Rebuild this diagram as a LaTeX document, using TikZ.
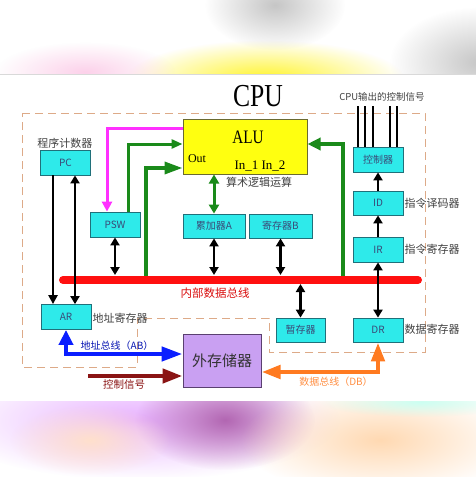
\documentclass[tikz,border=0pt]{standalone}
\usepackage{fontspec}
\setmainfont{Liberation Serif}
\newfontfamily\cjk{Noto Sans CJK SC}
\usetikzlibrary{arrows.meta,fadings}
\tikzfading[name=softblob, inner color=transparent!0, outer color=transparent!100]
\definecolor{boxcyan}{HTML}{2EEAEA}
\definecolor{regborder}{HTML}{20707A}
\definecolor{regtext}{HTML}{3A4A78}
\definecolor{aluyellow}{HTML}{FFFF10}
\definecolor{aluborder}{HTML}{6A6A30}
\definecolor{extfill}{HTML}{C9A0F2}
\definecolor{extborder}{HTML}{5A4070}
\definecolor{dashcol}{HTML}{DDAA88}
\definecolor{busred}{HTML}{FF1010}
\definecolor{gr}{HTML}{1A8A1A}
\definecolor{mag}{HTML}{FF30FF}
\definecolor{abblue}{HTML}{0A1EFF}
\definecolor{ctrlred}{HTML}{8A1414}
\definecolor{dborange}{HTML}{FF7A20}
\begin{document}
\begin{tikzpicture}[x=1pt,y=-1pt,
  reg/.style={draw=regborder, fill=boxcyan, line width=0.8pt, minimum width=50pt,
    minimum height=25pt, inner sep=0pt, text=regtext, font=\cjk\fontsize{10}{12}\selectfont},
  lbl/.style={font=\cjk\fontsize{11}{13}\selectfont, text=black!75, inner sep=0pt},
  barrow/.style={line width=2.5pt, {Triangle[length=8pt,width=9pt]}-{Triangle[length=8pt,width=9pt]}},
  uparrow/.style={line width=2.5pt, -{Triangle[length=8pt,width=9pt]}},
  sig/.style={line width=2.2pt},
  blob/.style={fill=#1, path fading=softblob}
]
\useasboundingbox (0,0) rectangle (476,477);
% background bands
\begin{scope}
\clip (0,0) rectangle (476,74);
\fill[white] (0,0) rectangle (476,74);
\fill[blob=yellow!85] (265,80) ellipse (140pt and 40pt);
\fill[blob=gray!45] (275,5) ellipse (70pt and 45pt);
\fill[blob=gray!45] (480,62) ellipse (90pt and 55pt);
\fill[blob=magenta!18] (85,72) ellipse (90pt and 30pt);
\end{scope}
\draw[gray!30, line width=0.6pt] (0,74) -- (476,74);
\begin{scope}
\clip (0,401) rectangle (476,477);
\fill[white] (0,401) rectangle (476,477);
\fill[blob=blue!30!magenta!30] (140,420) ellipse (200pt and 60pt);
\fill[blob=violet!60!white] (225,420) ellipse (90pt and 50pt);
\fill[blob=orange!30] (380,440) ellipse (140pt and 55pt);
\fill[blob=green!25!cyan!20] (420,402) ellipse (100pt and 15pt);
\fill[blob=red!20!orange!20] (90,440) ellipse (80pt and 35pt);
\end{scope}
% dashed CPU outline
\draw[dashcol, line width=0.9pt, dash pattern=on 8pt off 5pt]
  (22,113) -- (425,113) -- (425,352) -- (269,352) -- (269,318) -- (137,318)
  -- (137,367) -- (22,367) -- cycle;
\node[font=\fontsize{32}{34}\selectfont, inner sep=0pt] (cpu) at (258,96) {\scalebox{0.8}[1]{CPU}};
% nodes
\node[reg] (PC) at (65.5,162.5) {PC};
\node[reg] (AR) at (66,317) {AR};
\node[reg] (PSW) at (115,224.5) {PSW};
\node[reg, minimum width=62pt, minimum height=24pt] (A) at (214,226) {累加器A};
\node[reg, minimum width=63pt, minimum height=24pt] (B) at (280.5,226) {寄存器B};
\node[reg, minimum width=49pt, minimum height=24pt] (tmp) at (300.5,330) {暂存器};
\node[reg, minimum height=24pt] (DR) at (378,330) {DR};
\node[reg] (IR) at (378,249.5) {IR};
\node[reg, minimum height=24pt] (ID) at (378,203) {ID};
\node[reg] (CU) at (378,159.5) {控制器};
\node[draw=aluborder, fill=aluyellow, line width=1pt, minimum width=124pt, minimum height=55pt, inner sep=0pt] (ALU) at (245,146.5) {};
\node[inner sep=0pt, font=\fontsize{19}{20}\selectfont] (alut) at (248,137) {\scalebox{0.8}[1]{ALU}};
\node[inner sep=0pt, font=\fontsize{12}{14}\selectfont] (outt) at (197,159) {Out};
\node[inner sep=0pt, font=\fontsize{13}{14}\selectfont] (int) at (260,166) {In\_1 In\_2};
\node[draw=extborder, fill=extfill, line width=1pt, minimum width=78pt, minimum height=53pt, inner sep=0pt,
  font=\cjk\fontsize{15}{17}\selectfont, text=black!80] (ext) at (222,360.5) {外存储器};
% labels
\node[lbl] (lpc) at (65,143) {程序计数器};
\node[lbl] (lar) at (120,318) {地址寄存器};
\node[lbl] (lalu) at (259,182) {算术逻辑运算};
\node[lbl, text=busred!85!black, font=\cjk\fontsize{11.5}{13}\selectfont] (lbus) at (215,293) {内部数据总线};
\node[lbl] (lid) at (432,203) {指令译码器};
\node[lbl] (lir) at (432,249) {指令寄存器};
\node[lbl] (ldr) at (432,329) {数据寄存器};
\node[lbl, font=\cjk\fontsize{9.5}{11}\selectfont] (lcs) at (382,97) {CPU输出的控制信号};
\node[lbl, text=abblue!70!black, font=\cjk\fontsize{10}{12}\selectfont] (lab) at (117,346) {地址总线（AB）};
\node[lbl, text=ctrlred, font=\cjk\fontsize{10.5}{12}\selectfont] (lctl) at (124,385) {控制信号};
\node[lbl, text=dborange!85!white, font=\cjk\fontsize{10}{12}\selectfont] (ldb) at (336,382) {数据总线（DB）};
% green lines from bus
\coordinate (busL) at (63,280);
\coordinate (busR) at (418,280);
\coordinate (g2) at (146,280);
\coordinate (g3) at (343,280);
\draw[gr, line width=3pt, -{Triangle[length=11pt,width=9pt]}] ([xshift=13pt]PSW.north) |- ([yshift=2.5pt]ALU.west);
\draw[gr, line width=3.5pt, -{Triangle[length=18pt,width=12pt]}] (g2) |- ([yshift=-21.5pt]ALU.west);
\draw[gr, line width=3.5pt, -{Triangle[length=13pt,width=12pt]}] (g3) |- ([yshift=2.5pt]ALU.east);
\draw[gr, line width=3pt, {Triangle[length=9pt,width=10pt]}-{Triangle[length=9pt,width=10pt]}] (ALU.south -| A.north) -- (A.north);
\draw[mag, line width=3pt, -{Triangle[length=10pt,width=10pt]}] ([yshift=18.5pt]ALU.west) -| ([xshift=-8pt]PSW.north);
% bus
\draw[busred, line width=8pt, line cap=round] (busL) -- (busR);
% black arrows
\draw[line width=2.5pt, -{Triangle[length=9pt,width=9pt]}] ([xshift=-12.5pt]PC.south) -- ([xshift=-13pt]AR.north);
\draw[barrow] ([xshift=9.5pt]PC.south) -- ([xshift=9pt]AR.north);
\draw[barrow] (PSW.south) -- ([yshift=5pt]PSW.south |- busL);
\draw[barrow] (A.south) -- ([yshift=5pt]A.south |- busL);
\draw[barrow] (B.south) -- ([yshift=5pt]B.south |- busL);
\draw[barrow] ([yshift=-4pt]tmp.north |- busL) -- (tmp.north);
\draw[barrow] (IR.south) -- (DR.north);
\draw[uparrow] (IR.north) -- (ID.south);
\draw[uparrow] (ID.north) -- (CU.south);
\foreach \xx/\nm in {358/c1,365/c2,373/c3,390/c4,397/c5}{
  \coordinate (\nm) at (\xx,106);
  \draw[sig] (CU.north -| \nm) -- (\nm);
}
% external buses
\draw[abblue, line width=4.5pt, {Triangle[length=15pt,width=14pt]}-{Triangle[length=21pt,width=14pt]}]
  (AR.south) |- ([yshift=6.5pt]ext.west);
\coordinate (ctrlstart) at (88,376);
\draw[ctrlred, line width=4.5pt, -{Triangle[length=20pt,width=14pt]}] (ctrlstart) -- ([yshift=-15.5pt]ext.west);
\draw[dborange, line width=4.5pt, {Triangle[length=19pt,width=13pt]}-{Triangle[length=19pt,width=13pt]}]
  (DR.south) |- ([yshift=-11.5pt]ext.east);
\end{tikzpicture}
\end{document}
